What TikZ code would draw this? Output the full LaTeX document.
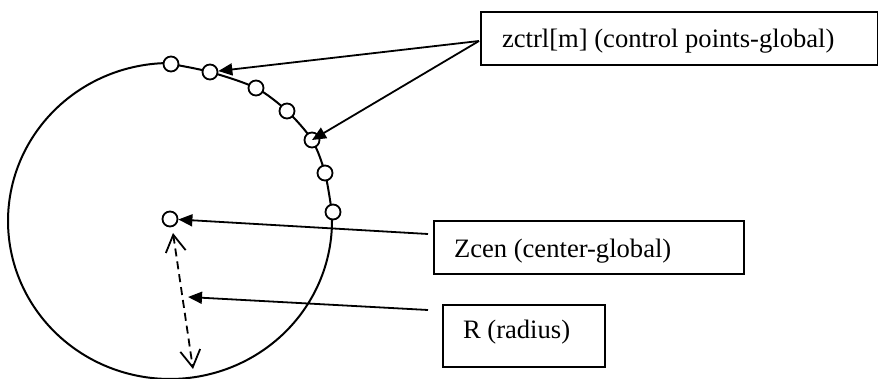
\documentclass[tikz,border=0pt]{standalone}
\usepackage{fontspec}
\setmainfont{Liberation Serif}
\usetikzlibrary{arrows.meta}
\begin{document}
\begin{tikzpicture}[x=0.5pt,y=-0.5pt,line width=1pt,
  knot/.style={circle,draw,fill=white,inner sep=0pt,minimum size=7.5pt,line width=0.9pt},
  labelbox/.style={draw,rectangle,inner sep=0pt,anchor=north west,line width=1pt},
  labeltext/.style={anchor=base west,inner sep=0pt,font=\fontsize{13.3}{16}\selectfont},
  pointer/.style={-{Triangle[length=7pt,width=6pt]},line width=0.9pt},
  span/.style={{Straight Barb[length=8.5pt,width=10pt,line width=0.9pt]}-{Straight Barb[length=8.5pt,width=10pt,line width=0.9pt]},
    dash pattern=on 4pt off 2.5pt,line width=0.9pt}]
\useasboundingbox (0,0) rectangle (878,379);

% outline: spline through the control points, closed by a round arc
\draw plot[smooth,tension=0.5] coordinates {
  (171,64) (210,72) (256,88) (287,111) (312,140) (325,173) (332,213)}
  -- plot[domain=-3:270.5,samples=90,smooth] ({170+162*cos(\x)},{221+158*sin(\x)})
  -- cycle;

% control points on the outline
\node[knot] (k1) at (171,64) {};
\node[knot] (k2) at (210,72) {};
\node[knot] (k3) at (256,88) {};
\node[knot] (k4) at (287,111) {};
\node[knot] (kx) at (312,140) {};
\node[knot] (k5) at (325,173) {};
\node[knot] (k6) at (333,212) {};

% centre point
\node[knot] (zc) at (170,219) {};

% label boxes
\node[labelbox,minimum width=198.5pt,minimum height=26.5pt] (ctrlbox) at (480,11) {};
\node[labeltext] (ctrltext) at (501,48) {zctrl[m] (control points-global)};
\node[labelbox,minimum width=155pt,minimum height=26.5pt] (cenbox) at (433,220) {};
\node[labeltext] (centext) at (453,257) {Zcen (center-global)};
\node[labelbox,minimum width=81pt,minimum height=31pt] (radbox) at (442,304) {};
\node[labeltext] (radtext) at (462,338) {R (radius)};

% connector ends
\coordinate (ctrlfoot) at (479,41);
\coordinate (cenfoot) at (428,234);
\coordinate (radfoot) at (428,310);
\coordinate (radtip) at (188,297);
\coordinate (spantop) at (173,233);
\coordinate (spanbot) at (193,369);

% pointers
\draw[pointer] (ctrlfoot) -- (k2);
\draw[pointer] (ctrlfoot) -- (kx.center);
\draw[pointer] (cenfoot) -- (zc);
\draw[pointer] (radfoot) -- (radtip);
\draw[span] (spantop) -- (spanbot);
\end{tikzpicture}
\end{document}
